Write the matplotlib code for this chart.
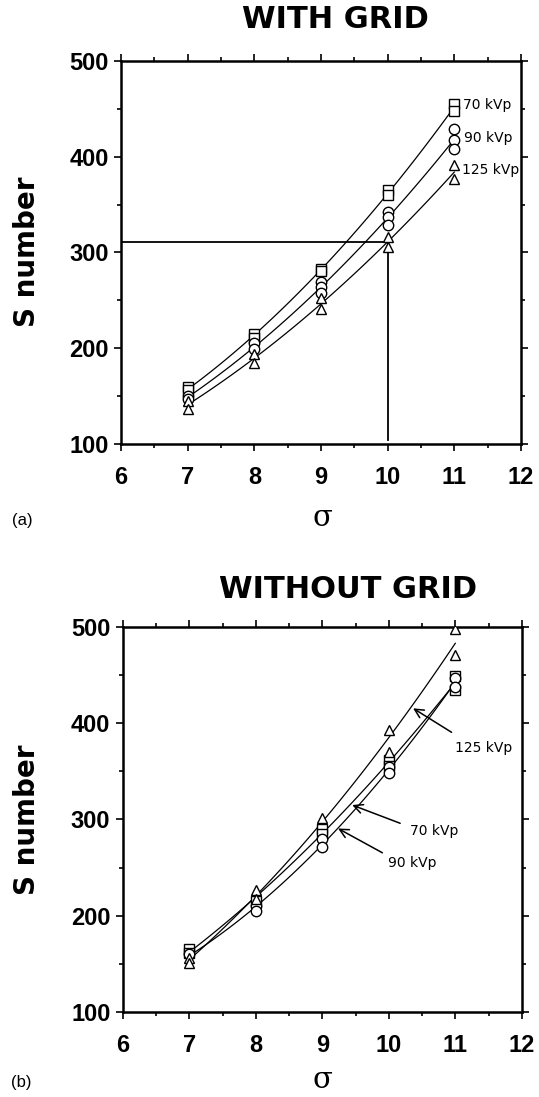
import numpy as np
import matplotlib.pyplot as plt

# S number vs sigma (x = sigma, y = S number)
sigma_top_70 = [7, 7, 8, 8, 9, 9, 10, 10, 11, 11]
s_top_70 = [159, 156, 215, 211, 283, 281, 365, 360, 455, 448]
sigma_top_90 = [7, 7, 8, 8, 9, 9, 9, 10, 10, 10, 11, 11, 11]
s_top_90 = [150, 147, 205, 199, 269, 264, 258, 342, 337, 329, 429, 418, 408]
sigma_top_125 = [7, 7, 8, 8, 9, 9, 10, 10, 11, 11]
s_top_125 = [145, 137, 194, 185, 252, 241, 316, 306, 391, 377]

sigma_bot_70 = [7, 7, 8, 9, 9, 10, 10, 11, 11]
s_bot_70 = [165, 161, 215, 290, 285, 362, 356, 449, 435]
sigma_bot_90 = [7, 8, 8, 9, 9, 10, 10, 11, 11]
s_bot_90 = [160, 210, 205, 280, 271, 355, 348, 447, 438]
sigma_bot_125 = [7, 7, 8, 8, 9, 10, 10, 11, 11]
s_bot_125 = [156, 151, 227, 217, 301, 393, 370, 498, 471]

# reference lines on panel (a)
ref_sigma = 10
ref_s = 311

kvp_labels = ['70 kVp', '90 kVp', '125 kVp']
markers = ['s', 'o', '^']

TICK_FONT = dict(family='Liberation Sans', weight='bold', size=17)


def style_axes(ax):
    ax.set_xlim(6, 12)
    ax.set_ylim(100, 500)
    ax.set_xticks(range(6, 13))
    ax.set_yticks(range(100, 501, 100))
    ax.set_xticks(np.arange(6, 12.01, 0.5), minor=True)
    ax.set_yticks(range(100, 501, 50), minor=True)
    ax.tick_params(which='both', direction='out', top=True, right=True, width=1.2)
    ax.tick_params(which='major', length=5)
    ax.tick_params(which='minor', length=3)
    ax.tick_params(axis='x', which='major', pad=11)
    ax.tick_params(axis='y', which='major', pad=4)
    for lab in ax.get_xticklabels() + ax.get_yticklabels():
        lab.set_fontproperties(TICK_FONT)
    for sp in ax.spines.values():
        sp.set_linewidth(1.8)


def plot_group(ax, xs, ys, marker):
    ax.plot(xs, ys, linestyle='none', marker=marker, markersize=7.5,
            markerfacecolor='white', markeredgecolor='black', mew=1.0, zorder=3)
    coef = np.polyfit(xs, ys, 2)
    xx = np.linspace(7, 11, 100)
    ax.plot(xx, np.polyval(coef, xx), color='black', lw=0.9, zorder=2)


fig = plt.figure(figsize=(5.39, 10.97), dpi=100)

# ---- (a) with grid
ax1 = fig.add_axes([0.2245, 0.5953, 0.742, 0.3491])
top_sets = [(sigma_top_70, s_top_70), (sigma_top_90, s_top_90), (sigma_top_125, s_top_125)]
for (xs, ys), m in zip(top_sets, markers):
    plot_group(ax1, xs, ys, m)
ax1.plot([6, ref_sigma], [ref_s, ref_s], color='black', lw=1.3)
ax1.plot([ref_sigma, ref_sigma], [104, ref_s], color='black', lw=1.3)
top_label_pos = [(11.13, 454), (11.15, 420), (11.11, 386)]
for txt, (x, y) in zip(kvp_labels, top_label_pos):
    ax1.text(x, y, txt, fontsize=10, family='DejaVu Sans', va='center', ha='left')
style_axes(ax1)

# ---- (b) without grid
ax2 = fig.add_axes([0.228, 0.0775, 0.740, 0.351])
bot_sets = [(sigma_bot_70, s_bot_70), (sigma_bot_90, s_bot_90), (sigma_bot_125, s_bot_125)]
for (xs, ys), m in zip(bot_sets, markers):
    plot_group(ax2, xs, ys, m)
# text position, arrow tail, arrow head
bot_notes = [
    ('125 kVp', (11.0, 374), (10.98, 389), (10.33, 417)),
    ('70 kVp', (10.32, 288), (10.21, 295), (9.41, 316)),
    ('90 kVp', (9.99, 255), (9.94, 264), (9.20, 292)),
]
for txt, tpos, tail, head in bot_notes:
    ax2.text(tpos[0], tpos[1], txt, fontsize=10, family='DejaVu Sans', va='center', ha='left')
    ax2.annotate('', xy=head, xytext=tail,
                 arrowprops=dict(arrowstyle='->', lw=1.1, color='black',
                                 mutation_scale=16))
style_axes(ax2)

# titles / labels
fig.text(335 / 539, 1 - 19 / 1097, 'WITH GRID', fontsize=22, weight='bold',
         family='DejaVu Sans', ha='center', va='center')
fig.text(348 / 539, 1 - 589 / 1097, 'WITHOUT GRID', fontsize=22, weight='bold',
         family='DejaVu Sans', ha='center', va='center')
for yc in [252, 820]:
    fig.text(27 / 539, 1 - yc / 1097, 'S number', fontsize=20, weight='bold',
             family='DejaVu Sans', rotation=90, ha='center', va='center')
for yc in [518, 1080]:
    fig.text(322 / 539, 1 - yc / 1097, 'σ', fontsize=21, family='DejaVu Serif',
             ha='center', va='center')
fig.text(22 / 539, 1 - 520 / 1097, '(a)', fontsize=12, family='Liberation Sans',
         ha='center', va='center')
fig.text(21 / 539, 1 - 1083 / 1097, '(b)', fontsize=12, family='Liberation Sans',
         ha='center', va='center')

fig.savefig('out.png', dpi=100)
